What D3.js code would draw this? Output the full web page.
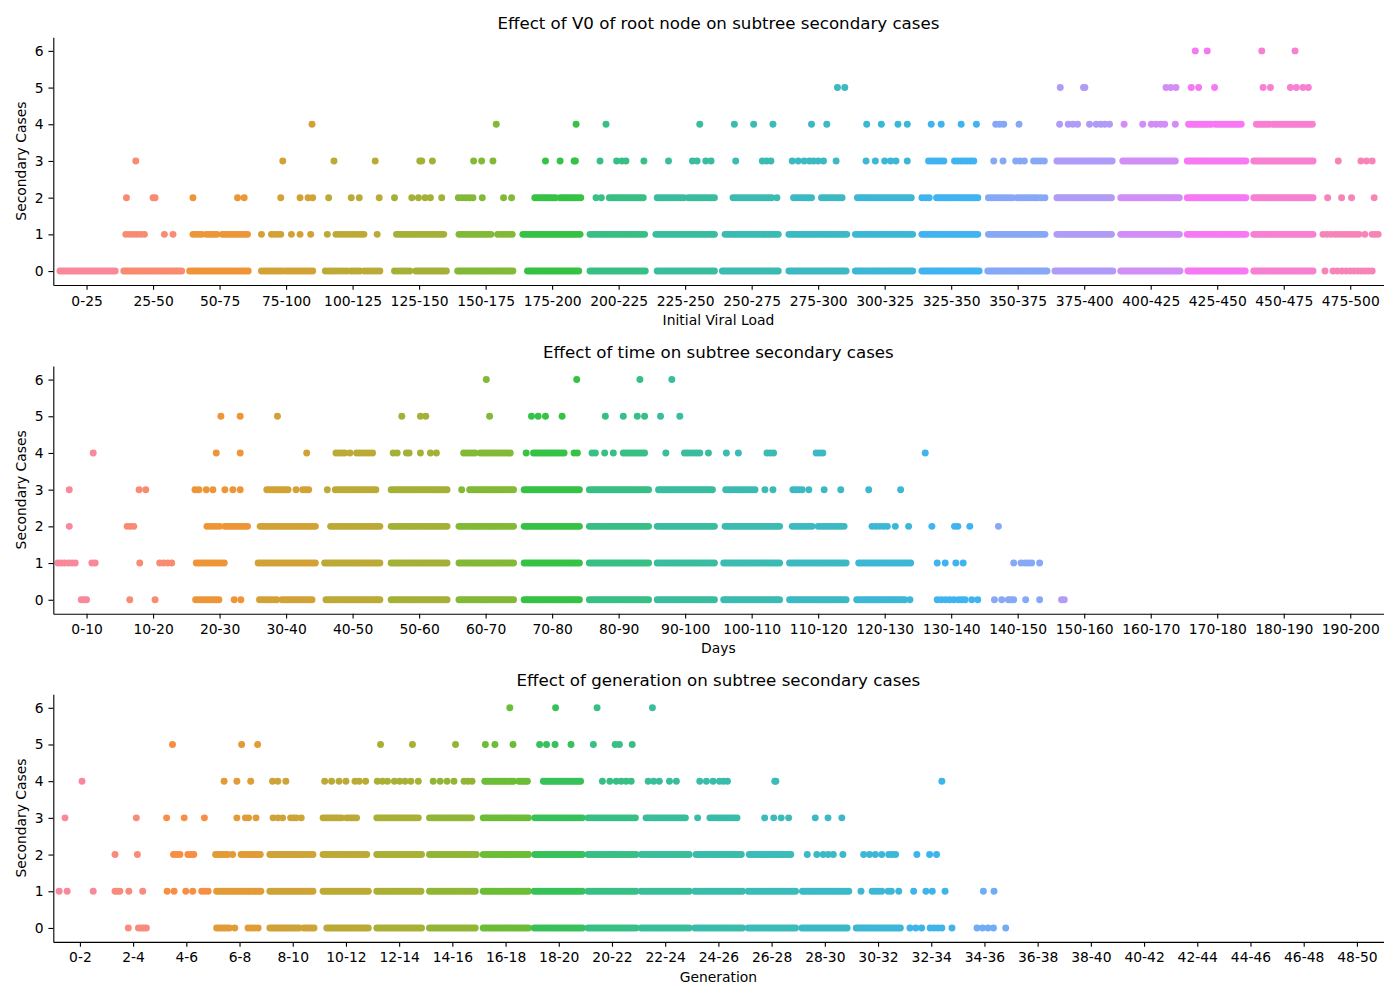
<!DOCTYPE html>
<html><head><meta charset="utf-8">
<script src="https://cdn.jsdelivr.net/npm/d3@7"></script>
<style>body{margin:0;background:#fff} svg text{font-family:"DejaVu Sans",sans-serif;fill:#000}</style>
</head><body>
<svg id="chart" width="1400" height="1000"></svg>
<script>
// ---------------- DATA ----------------
const yLevels = [0, 1, 2, 3, 4, 5, 6];

const v0Labels = ["0-25","25-50","50-75","75-100","100-125","125-150","150-175","175-200","200-225","225-250","250-275","275-300","300-325","325-350","350-375","375-400","400-425","425-450","450-475","475-500"];
const dayLabels = ["0-10","10-20","20-30","30-40","40-50","50-60","60-70","70-80","80-90","90-100","100-110","110-120","120-130","130-140","140-150","150-160","160-170","170-180","180-190","190-200"];
const genLabels = ["0-2","2-4","4-6","6-8","8-10","10-12","12-14","14-16","16-18","18-20","20-22","22-24","24-26","26-28","28-30","30-32","32-34","34-36","36-38","38-40","40-42","42-44","44-46","46-48","48-50"];

// Strip observations per secondary-case level: [x] single observation, or [from, to, count]
// (x in category units: category index + jitter offset)
const v0Strips = [
 // 0
 [[-0.40,0.43,24],[0.56,1.43,26],[1.55,2.43,24],[2.63,2.95,9],[3.0,3.40,11],[3.59,3.92,8],[3.98,4.11,4],[4.18,4.41,6],
  [4.63,4.86,6],[4.95,5.41,14],[5.58,6.41,26],[6.63,7.40,24],[7.57,8.40,24],[8.58,9.44,24],[9.56,10.40,26],[10.56,11.42,26],
  [11.56,12.42,26],[12.56,13.42,26],[13.55,14.44,28],[14.56,15.43,28],[15.55,16.44,28],[16.56,17.42,28],[17.55,18.44,28],
  [18.62],[18.74,18.94,4],[19.0,19.33,7]],
 // 1
 [[0.59,0.87,6],[1.17],[1.30],[1.60,1.73,4],[1.80,1.96,5],[2.04,2.42,11],[2.63],[2.78,2.92,4],[3.08],[3.21],[3.37],
  [3.62],[3.75,4.17,10],[4.37],[4.66,5.37,20],[5.60,6.08,14],[6.18,6.40,6],[6.56,7.42,26],[7.57,8.39,24],[8.56,9.44,26],
  [9.60,10.40,24],[10.56,11.43,26],[11.56,12.42,26],[12.56,13.40,26],[13.56,14.41,26],[14.59,15.41,26],[15.55,16.43,26],
  [16.55,17.43,26],[17.55,18.44,26],[18.59,18.71,3],[18.77,19.13,8],[19.22],[19.33,19.42,3]],
 // 2
 [[0.60],[1.00,1.03,2],[1.60],[2.27,2.37,2],[2.92],[3.21],[3.33,3.40,2],[3.64],[3.98],[4.10],[4.40],
  [4.63],[4.89],[4.99],[5.09],[5.17],[5.34],[5.59,5.81,5],[5.95],[6.27],[6.39],[6.74,7.05,9],[7.12,7.43,9],
  [7.66,7.74,2],[7.86,8.37,14],[8.58,8.98,10],[9.05,9.44,10],[9.72,10.30,14],[10.38],[10.63,10.90,7],[11.05,11.36,8],
  [11.59,12.40,22],[12.56,12.67,3],[12.78,13.40,18],[13.56,13.92,9],[13.99,14.26,7],[14.30,14.41,3],
  [14.59,15.41,26],[15.55,16.43,26],[16.55,17.43,26],[17.55,18.44,26],[18.66],[18.87],[19.02],[19.36]],
 // 3
 [[0.74],[2.95],[3.72],[4.34],[5.01,5.04,2],[5.20],[5.82],[5.94],[6.11],[6.90],[7.12],[7.33,7.35,2],
  [7.72],[7.97],[8.05],[8.11],[8.38],[8.75],[9.11],[9.18],[9.31],[9.39],[9.76],[10.16,10.29,3],
  [10.61],[10.70],[10.79],[10.87],[10.93],[11.0],[11.08],[11.27],[11.72],[11.86],[12.0],[12.09],[12.17],[12.34],
  [12.66,12.89,6],[13.05,13.34,7],[13.64],[13.78],[13.97,14.10,3],[14.24,14.40,4],
  [14.59,15.42,26],[15.58,16.37,24],[16.55,17.43,26],[17.55,18.44,26],[18.82],[19.16,19.33,3]],
 // 4
 [[3.39],[6.16],[7.36],[7.81],[9.22],[9.74],[10.03],[10.32],[10.90],[11.13],[11.73],[11.95],[12.20],[12.34],
  [12.70],[12.85],[13.15],[13.38],[13.67],[13.73],[13.79],[14.02],
  [14.63],[14.76],[14.83],[14.90],[15.08],[15.18],[15.25],[15.31],[15.38],
  [15.60],[15.88],[16.01],[16.08],[16.15],[16.21],[16.37],[16.57,16.91,10],[16.97,17.36,11],[17.59,17.78,6],[17.84,18.43,17]],
 // 5
 [[11.29,11.40,2],[14.64],[14.99,15.01,2],[16.23],[16.30],[16.38],[16.61],[16.72],[16.96],
  [17.69],[17.80],[18.10],[18.19],[18.29],[18.37]],
 // 6
 [[16.67],[16.85],[17.67],[18.17]]
];

const dayStrips = [
 // 0
 [[-0.08,0.0,3],[0.65],[1.03],[1.64,1.99,9],[2.22],[2.32],[2.60,2.86,7],[2.94,3.39,12],[3.60,4.41,24],[4.58,5.42,24],
  [5.60,6.42,24],[6.58,7.41,24],[7.56,8.45,26],[8.58,9.44,24],[9.58,10.42,24],[10.57,11.42,24],[11.58,12.30,20],[12.38],
  [12.79,13.04,5],[13.11,13.21,3],[13.31,13.40,2],[13.65],[13.76],[13.86,13.94,3],[14.12],[14.33],[14.66,14.70,2]],
 // 1
 [[-0.43,-0.33,3],[-0.27,-0.17,3],[0.08,0.13,2],[0.80],[1.10,1.28,4],[1.65,2.07,11],[2.58,3.44,24],[3.58,4.41,24],
  [4.58,5.42,24],[5.60,6.42,24],[6.58,7.41,24],[7.56,8.45,26],[8.58,9.44,24],[9.58,10.42,24],[10.57,11.42,24],
  [11.61,12.39,22],[12.79],[12.91],[13.07],[13.18],[13.94],[14.05],[14.11],[14.16],[14.21],[14.33]],
 // 2
 [[-0.26],[0.61,0.71,3],[1.81,2.00,5],[2.08,2.42,10],[2.61,3.44,24],[3.67,4.41,22],[4.58,5.42,24],[5.60,6.42,24],
  [6.58,7.41,24],[7.56,8.45,26],[8.58,9.44,24],[9.60,10.42,24],[10.61,10.91,8],[11.0,11.39,10],
  [11.81,12.04,5],[12.16],[12.36],[12.71],[13.05,13.10,2],[13.28],[13.71]],
 // 3
 [[-0.26],[0.79],[0.89],[1.63],[1.69],[1.80],[1.90],[2.08],[2.20],[2.31],[2.71,3.03,9],[3.15],[3.25,3.34,3],
  [3.62],[3.74,4.35,16],[4.58,5.42,24],[5.64],[5.76,6.42,20],[6.58,7.41,24],[7.56,8.45,26],[8.60,9.41,24],
  [9.61,10.05,11],[10.20],[10.32],[10.62,10.76,4],[10.86],[11.09],[11.34],[11.76],[12.24]],
 // 4
 [[0.10],[1.95],[2.31],[3.31],[3.75,3.88,4],[3.96],[4.06,4.30,6],[4.61],[4.67],[4.81],[4.85],[5.02],[5.17],[5.26],
  [5.67,5.84,5],[5.92,6.37,12],[6.61],[6.72,7.18,13],[7.33,7.38,2],[7.60],[7.65],[7.79],[7.92],[8.07,8.39,9],
  [8.71],[8.99,9.22,6],[9.35],[9.62],[9.80],[10.23,10.33,3],[10.97,11.07,3],[12.61]],
 // 5
 [[2.02],[2.31],[2.87],[4.74],[5.02,5.10,2],[6.06],[6.69],[6.79],[6.90],[7.15],[7.80],[8.07],[8.28],[8.39],[8.63],[8.92]],
 // 6
 [[6.01],[7.37],[8.32],[8.80]]
];

const genStrips = [
 // 0
 [[0.91],[1.10,1.25,4],[2.57,2.81,6],[2.91],[3.16,3.35,4],[3.57,4.12,14],[4.21,4.40,5],[4.64,5.42,20],[5.58,6.42,20],
  [6.57,7.43,20],[7.58,8.43,20],[8.54,9.44,20],[9.55,10.45,20],[10.55,11.45,20],[11.56,12.45,20],[12.56,13.45,20],
  [13.57,14.42,20],[14.59,15.42,20],[15.60,15.82,3],[15.98,16.20,4],[16.39],[16.86,17.17,4],[17.40]],
 // 1
 [[-0.39],[-0.24],[0.25],[0.66,0.75,3],[0.92],[1.18],[1.64],[1.77],[1.99],[2.12],[2.29,2.41,3],[2.57,3.40,20],
  [3.57,4.38,20],[4.57,5.42,20],[5.58,6.41,20],[6.57,7.43,20],[7.58,8.43,20],[8.54,9.44,20],[9.55,10.45,20],
  [10.55,11.45,20],[11.56,12.45,20],[12.56,13.45,20],[13.58,14.45,20],[14.68],[14.89,15.07,4],[15.19,15.25,2],[15.39],
  [15.67],[15.90,16.02,2],[16.26],[16.98],[17.18]],
 // 2
 [[0.66],[1.08],[1.76,1.88,3],[2.03,2.14,3],[2.55,2.78,6],[2.87],[3.03,3.39,9],[3.57,4.16,15],[4.21,4.38,4],
  [4.57,5.39,20],[5.58,6.42,20],[6.57,7.45,20],[7.58,8.43,20],[8.55,9.44,20],[9.55,10.45,20],[10.55,11.45,20],
  [11.58,12.43,20],[12.58,13.36,18],[13.67],[13.85],[13.97,14.16,3],[14.34],[14.73,14.95,3],[15.07],[15.20,15.33,3],
  [15.73],[15.97,16.10,2]],
 // 3
 [[-0.28],[1.06],[1.63],[1.96],[2.34],[2.95],[3.11,3.17,2],[3.31],[3.63,3.81,3],[3.96,4.07,3],[4.16],
  [4.57,4.92,9],[5.01,5.20,5],[5.58,6.36,20],[6.57,7.36,20],[7.58,8.43,20],[8.55,9.44,20],[9.55,10.44,20],
  [10.64,11.38,18],[11.61],[11.84,12.35,12],[12.87],[13.04,13.32,3],[13.82],[14.06],[14.32]],
 // 4
 [[0.04],[2.71],[2.95],[3.21],[3.62,3.72,2],[3.87],[4.60,4.73,2],[4.87],[5.0],[5.17,5.25,2],[5.37],
  [5.59,5.78,3],[5.91,6.11,3],[6.22],[6.36],[6.64],[6.77],[6.90],[7.03],[7.22,7.37,3],[7.61,8.15,14],[8.25,8.41,5],
  [8.71,9.41,18],[9.82,9.96,2],[10.08,10.36,4],[10.68,10.89,3],[11.08],[11.21],[11.65,11.90,3],[12.02,12.17,3],
  [13.06,13.08,2],[16.20]],
 // 5
 [[1.74],[3.04],[3.34],[5.65],[6.25],[7.06],[7.62],[7.80],[8.14],[8.64],[8.77],[8.93],[9.23],[9.65],[10.06,10.14,2],[10.38]],
 // 6
 [[8.08],[8.94],[9.72],[10.76]]
];

const titles = ["Effect of V0 of root node on subtree secondary cases","Effect of time on subtree secondary cases","Effect of generation on subtree secondary cases"];
const xTitles = ["Initial Viral Load","Days","Generation"];
const yTitle = "Secondary Cases";

// ---------------- HUSL (seaborn husl_palette, l = .7) ----------------
const Mx = [[3.2406,-1.5372,-0.4986],[-0.9689,1.8758,0.0415],[0.0557,-0.2040,1.0570]];
const refU = 0.19784, refV = 0.46834, kappa = 903.2962962, eps = 0.0088564516;
function maxChroma(L, H) {
  const hr = H / 360 * Math.PI * 2, sH = Math.sin(hr), cH = Math.cos(hr);
  const sub1 = Math.pow(L + 16, 3) / 1560896;
  const sub2 = sub1 > eps ? sub1 : L / kappa;
  let res = Infinity;
  for (const [m1, m2, m3] of Mx) {
    const top = (0.99915 * m1 + 1.05122 * m2 + 1.14460 * m3) * sub2;
    const rb = 0.86330 * m3 - 0.17266 * m2;
    const lb = 0.12949 * m3 - 0.38848 * m1;
    const bottom = (rb * sH + lb * cH) * sub2;
    for (const t of [0, 1]) {
      const C = L * (top - 1.05122 * t) / (bottom + 0.17266 * sH * t);
      if (C > 0 && C < res) res = C;
    }
  }
  return res;
}
function huslToRgb(H, S, L) {
  const C = maxChroma(L, H) / 100 * S;
  const hr = H / 360 * Math.PI * 2;
  const U = Math.cos(hr) * C, V = Math.sin(hr) * C;
  const Y = L > 8 ? Math.pow((L + 16) / 116, 3) : L / kappa;
  const vU = U / (13 * L) + refU, vV = V / (13 * L) + refV;
  const X = -(9 * Y * vU) / ((vU - 4) * vV - vU * vV);
  const Z = (9 * Y - 15 * vV * Y - vV * X) / (3 * vV);
  const lin = c => c <= 0.0031308 ? 12.92 * c : 1.055 * Math.pow(c, 1 / 2.4) - 0.055;
  const rgb = Mx.map(r => Math.max(0, Math.min(1, lin(r[0] * X + r[1] * Y + r[2] * Z))));
  return d3.rgb(rgb[0] * 255, rgb[1] * 255, rgb[2] * 255).formatHex();
}
function huslPalette(n) {
  return d3.range(n).map(i => huslToRgb(((i / n + 0.01) % 1) * 359, 0.9 * 99, 0.7 * 99));
}

// ---------------- DRAW ----------------
const svg = d3.select("#chart");
const L = 53.3, R = 1383.5, H = 247.7;
const tops = [37.3, 366.0, 694.2];
const panels = [
  {labels: v0Labels, strips: v0Strips},
  {labels: dayLabels, strips: dayStrips},
  {labels: genLabels, strips: genStrips}
];
const expand = run => run.length === 1 ? [run[0]] :
  d3.range(run[2]).map(k => run[2] === 1 ? run[0] : run[0] + (run[1] - run[0]) * k / (run[2] - 1));

panels.forEach((p, pi) => {
  const top = tops[pi], n = p.labels.length;
  const g = svg.append("g");
  const x = d3.scaleLinear().domain([-0.5, n - 0.5]).range([L, R]);
  const y = d3.scaleLinear().domain([-0.38, 6.37]).range([top + H, top]);
  const pal = huslPalette(n);
  const pts = [];
  p.strips.forEach((runs, lev) => runs.forEach(run => expand(run).forEach(v => pts.push({v, lev: yLevels[lev]}))));
  g.append("g").selectAll("circle").data(pts).join("circle")
    .attr("cx", d => x(d.v)).attr("cy", d => y(d.lev)).attr("r", 3.47)
    .attr("fill", d => pal[Math.max(0, Math.min(n - 1, Math.round(d.v)))]);

  const xa = g.append("g").attr("transform", `translate(0,${top + H})`)
    .call(d3.axisBottom(x).tickValues(d3.range(n)).tickFormat(i => p.labels[i]).tickSize(4.86).tickPadding(5.8).tickSizeOuter(0));
  const ya = g.append("g").attr("transform", `translate(${L},0)`)
    .call(d3.axisLeft(y).tickValues(yLevels).tickFormat(d3.format("d")).tickSize(4.86).tickPadding(4.86).tickSizeOuter(0));
  [xa, ya].forEach(a => {
    a.attr("font-family", null).attr("font-size", null);
    a.selectAll("text").style("font-size", "13.89px").attr("fill", "#000");
    a.selectAll("line").attr("stroke", "#000").attr("stroke-width", 1.11);
    a.select(".domain").attr("stroke", "#000").attr("stroke-width", 1.11);
  });

  g.append("text").attr("x", (L + R) / 2).attr("y", top - 8.33).attr("text-anchor", "middle")
    .style("font-size", "16.67px").text(titles[pi]);
  g.append("text").attr("x", (L + R) / 2).attr("y", top + H + 39.7).attr("text-anchor", "middle")
    .style("font-size", "13.89px").text(xTitles[pi]);
  g.append("text").attr("transform", `translate(20.7,${top + H / 2}) rotate(-90)`).attr("dy", "0.35em")
    .attr("text-anchor", "middle").style("font-size", "13.89px").text(yTitle);
});
</script>
</body></html>
